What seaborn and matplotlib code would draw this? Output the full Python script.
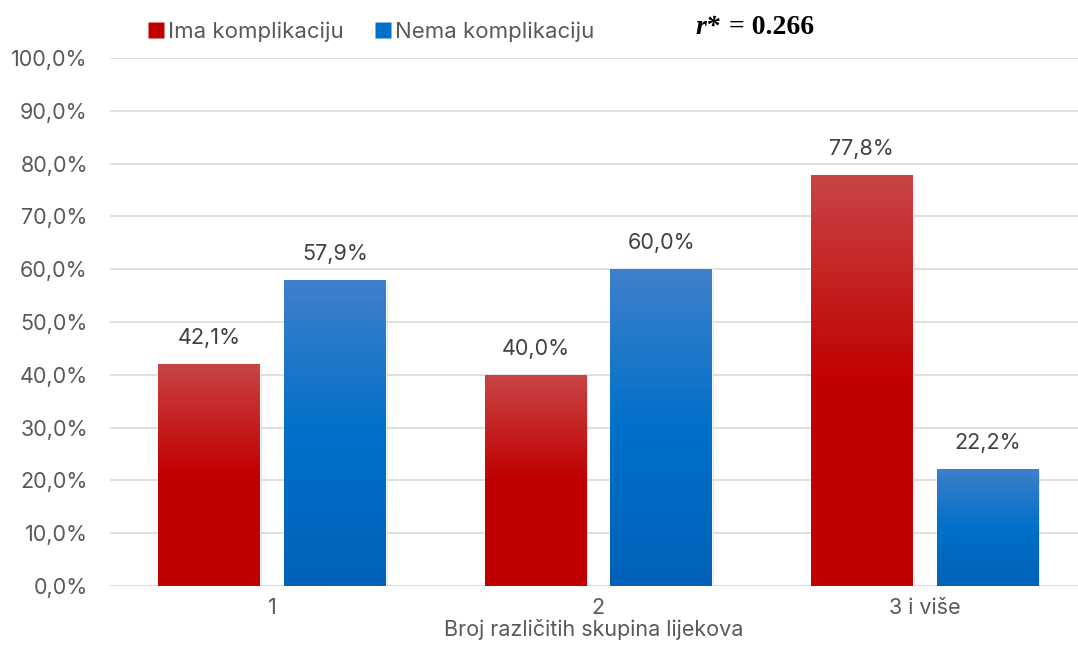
import numpy as np
import pandas as pd
import matplotlib
matplotlib.use("Agg")
import matplotlib.pyplot as plt
import seaborn as sns
from matplotlib.colors import LinearSegmentedColormap, to_hex
from matplotlib.patches import Rectangle
from matplotlib.lines import Line2D

categories = ["1", "2", "3 i više"]
series = ["Ima komplikaciju", "Nema komplikaciju"]
ima = [42.1, 40.0, 77.8]
nema = [57.9, 60.0, 22.2]
yticks = [0, 10, 20, 30, 40, 50, 60, 70, 80, 90, 100]

df = pd.DataFrame({
    "kat": categories * 2,
    "serija": [series[0]] * 3 + [series[1]] * 3,
    "val": ima + nema,
})

sns.set_theme(style="white")
plt.rcParams['font.family'] = ['Inter', 'DejaVu Sans']
txt = "#595959"
FS = 15.5

fig = plt.figure(figsize=(10.78, 6.5), dpi=100)
ax = fig.add_axes([110/1078, 1-586/650, 1-110/1078, (586-58)/650])

palette = {series[0]: "#C00000", series[1]: "#0070C8"}
sns.barplot(data=df, x="kat", y="val", hue="serija", palette=palette,
            width=0.77, gap=0.19, ax=ax, legend=False, saturation=1, zorder=3)

ax.set_ylim(0, 100)
ax.set_xlim(-0.497, 2.47)
ax.set_yticks(yticks)
ax.set_yticklabels([f"{v:.1f}%".replace(".", ",") for v in yticks], color=txt, fontsize=FS)
ax.tick_params(axis='x', colors=txt, labelsize=FS, length=0, pad=9)
ax.tick_params(axis='y', length=0, pad=16)
ax.yaxis.grid(True, color="#D9D9D9", linewidth=1.2, zorder=0)
ax.set_axisbelow(True)
for s in ax.spines.values():
    s.set_visible(False)
ax.axhline(0, color="#D9D9D9", linewidth=1.2, zorder=2)
ax.set_xlabel("Broj različitih skupina lijekova", color=txt, fontsize=FS, labelpad=0)
ax.set_ylabel("")

grad = {
    "#C00000": LinearSegmentedColormap.from_list("r", [(0, "#C00000"), (0.5, "#C00000"), (1.0, "#C94545")]),
    "#0070C8": LinearSegmentedColormap.from_list("b", [(0, "#0062B8"), (0.5, "#0070C8"), (1.0, "#3F80CC")]),
}
patches = [p for p in ax.patches if p.get_height() > 0]
for p in patches:
    c = to_hex(p.get_facecolor())
    c = "#C00000" if c.lower().startswith("#c0") else "#0070C8"
    x0, w, h = p.get_x(), p.get_width(), p.get_height()
    ax.add_patch(Rectangle((x0 + 0.006, -0.4), w, h, facecolor="#000000", alpha=0.12,
                           edgecolor="none", zorder=2.5))
    g = np.linspace(0, 1, 256).reshape(-1, 1)
    im = ax.imshow(g, cmap=grad[c], origin="lower", aspect="auto",
                   extent=(x0, x0 + w, 0, h), zorder=3.5)
    im.set_clip_path(p)
    ax.text(x0 + w / 2, h + 3.0, f"{h:.1f}%".replace(".", ","), ha="center", va="bottom",
            color="#404040", fontsize=FS, zorder=5)
ax.set_xlim(-0.497, 2.47)
ax.set_ylim(0, 100)

handles = [Line2D([0], [0], marker="s", linestyle="none", markersize=11,
                  markerfacecolor=palette[s], markeredgecolor="none") for s in series]
fig.legend(handles, series, loc="center left", bbox_to_anchor=(126/1078, 1-32/650),
           ncol=2, frameon=False, fontsize=16, labelcolor=txt, handletextpad=0.1,
           columnspacing=1.3, handlelength=0.9)

fig.text(695/1078, 1-27/650, "r*", fontfamily="Liberation Serif", fontweight="bold",
         fontstyle="italic", fontsize=20, va="center", ha="left", color="black")
fig.text(729/1078, 1-27/650, "= 0.266", fontfamily="Liberation Serif", fontweight="bold",
         fontsize=20, va="center", ha="left", color="black")

fig.savefig("out.png", dpi=100)
